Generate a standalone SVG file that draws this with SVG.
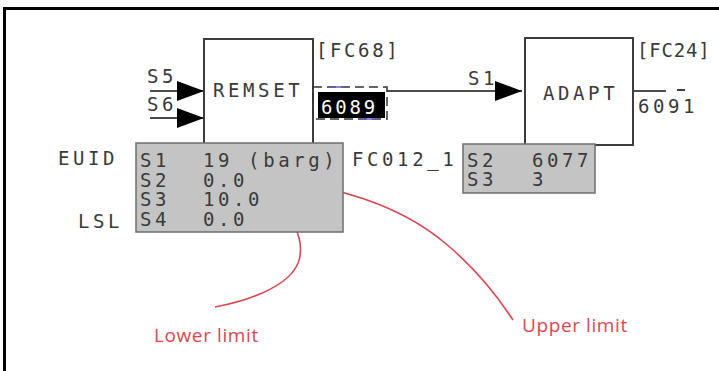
<svg xmlns="http://www.w3.org/2000/svg" width="719" height="371" viewBox="0 0 719 371">
<style>
.t{font-family:"DejaVu Sans Mono","Liberation Mono",monospace;font-size:19px;letter-spacing:3.6px;fill:#3a3a3a}
.box{fill:#fff;stroke:#3c3c3c;stroke-width:2}
.par{fill:#c4c4c4;stroke:#6e6e6e;stroke-width:1.5}
.ln{stroke:#111;stroke-width:1.6;fill:none}
.red{stroke:#dc4650;stroke-width:1.6;fill:none}
.rt{font-family:"Open Sans","DejaVu Sans",sans-serif;font-size:19px;fill:#dc4650;letter-spacing:0.6px}
</style>
<defs>
<marker id="ah" viewBox="0 0 27 20" refX="27" refY="10" markerWidth="27" markerHeight="20" markerUnits="userSpaceOnUse" orient="auto">
<path d="M0,0 L27,10 L0,20 Z" fill="#000"/>
</marker>
</defs>
<rect x="0" y="0" width="719" height="371" fill="#fff"/>
<rect x="4.5" y="8.5" width="800" height="800" fill="none" stroke="#000" stroke-width="3"/>

<g id="connectors">
<line class="ln" x1="150" y1="91" x2="204" y2="91" marker-end="url(#ah)"/>
<line class="ln" x1="150" y1="118" x2="204" y2="118" marker-end="url(#ah)"/>
<line class="ln" x1="387" y1="91" x2="522" y2="91" marker-end="url(#ah)"/>
<line class="ln" x1="633" y1="91" x2="666" y2="91"/>
<line class="ln" x1="677" y1="90" x2="685" y2="90"/>
<path class="red" d="M268,181 C330,183 400,205 445,243 C480,272 500,300 513,320"/>
<path class="red" d="M273,205 C292,216 303,236 300,256 C296,284 252,300 215,307"/>
</g>

<g id="remset">
<rect class="box" x="204" y="39" width="109" height="105"/>
<text class="t" x="213" y="97">REMSET</text>
<text class="t" x="316" y="57" style="letter-spacing:2.6px">[FC68]</text>
<text class="t" x="147" y="83">S5</text>
<text class="t" x="147" y="111">S6</text>
</g>

<g id="out6089">
<rect x="313" y="87" width="74" height="32" fill="none" stroke="#333" stroke-width="1.5" stroke-dasharray="9,5"/>
<line x1="330" y1="87" x2="344" y2="87" stroke="#6a5acd" stroke-width="1.5"/>
<line x1="360" y1="119" x2="378" y2="119" stroke="#6a5acd" stroke-width="1.5"/>
<rect x="318" y="92" width="67" height="26" fill="#000"/>
<text class="t" x="321" y="114" style="fill:#fff;letter-spacing:2.8px">6089</text>
</g>

<g id="remset-params">
<rect class="par" x="136" y="143" width="207" height="89"/>
<text class="t" x="140" y="167">S1</text>
<text class="t" x="140" y="186.5">S2</text>
<text class="t" x="140" y="206">S3</text>
<text class="t" x="140" y="225.5">S4</text>
<text class="t" x="203" y="167">19 (barg)</text>
<text class="t" x="203" y="186.5">0.0</text>
<text class="t" x="203" y="206">10.0</text>
<text class="t" x="203" y="225.5">0.0</text>
<text class="t" x="58" y="165">EUID</text>
<text class="t" x="78" y="228">LSL</text>
<text class="t" x="352" y="166">FC012_1</text>
</g>

<g id="adapt">
<rect class="box" x="525" y="38" width="108" height="107"/>
<text class="t" x="543" y="100">ADAPT</text>
<text class="t" x="637" y="57" style="letter-spacing:0.8px">[FC24]</text>
<text class="t" x="468" y="85">S1</text>
<text class="t" x="638" y="113">6091</text>
</g>

<g id="adapt-params">
<rect class="par" x="463" y="144" width="132" height="49"/>
<text class="t" x="467" y="167">S2</text>
<text class="t" x="467" y="186">S3</text>
<text class="t" x="532" y="167">6077</text>
<text class="t" x="532" y="186">3</text>
</g>

<g id="notes">
<text class="rt" x="154" y="342">Lower limit</text>
<text class="rt" x="522" y="332">Upper limit</text>
</g>
</svg>
